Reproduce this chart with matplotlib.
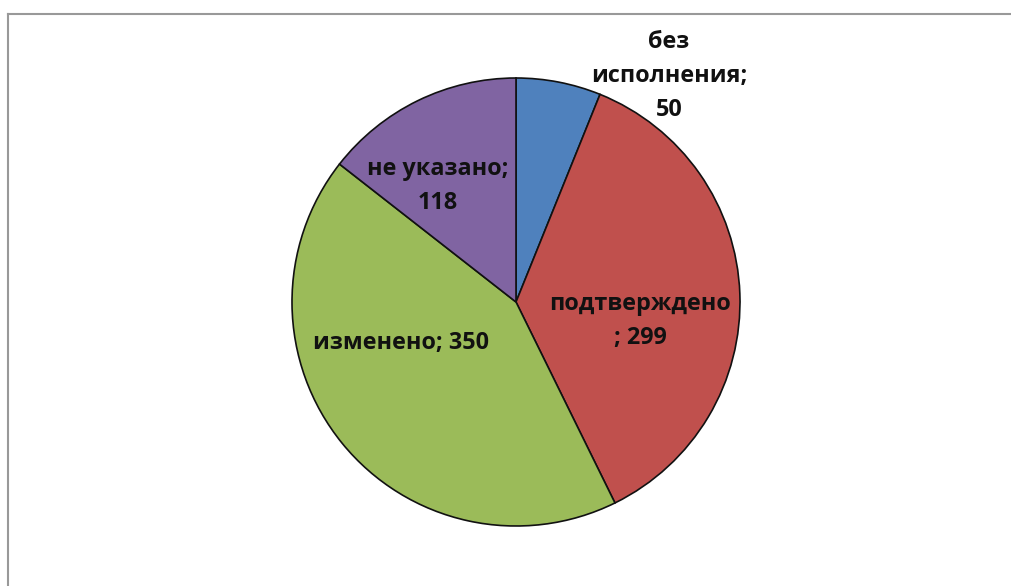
import matplotlib.pyplot as plt
from matplotlib.lines import Line2D

# data
labels = ['без\nисполнения;\n50', 'подтверждено\n; 299', 'изменено; 350', 'не указано;\n118']
values = [50, 299, 350, 118]
colors = ['#4F81BD', '#C0504D', '#9BBB59', '#8064A2']

W, H = 1011, 586
fig = plt.figure(figsize=(W / 100, H / 100), dpi=100)
ax = fig.add_axes([0, 0, 1, 1])

cx, cy, r = 516, H - 302, 224
wedges, _ = ax.pie(values, colors=colors, startangle=90, counterclock=False,
                   center=(cx, cy), radius=r, frame=True,
                   wedgeprops=dict(edgecolor='#111111', linewidth=1.2))
ax.set_xlim(0, W)
ax.set_ylim(0, H)
ax.set_aspect('equal')
ax.axis('off')

# label positions (pixel coords, top-left origin)
pos = [(669, 76), (640, 321), (401, 343), (438, 186)]
for lab, (x, y) in zip(labels, pos):
    ax.text(x, H - y, lab, ha='center', va='center', fontsize=16.8,
            fontweight='bold', family='Open Sans', color='#111111',
            linespacing=1.57)

# chart frame (only left and top visible)
fig.add_artist(Line2D([8 / W, 8 / W], [0, 1 - 14 / H], transform=fig.transFigure,
                      color='#999999', linewidth=1.5))
fig.add_artist(Line2D([8 / W, 1], [1 - 14 / H, 1 - 14 / H], transform=fig.transFigure,
                      color='#999999', linewidth=1.5))

fig.savefig('out.png', dpi=100)
